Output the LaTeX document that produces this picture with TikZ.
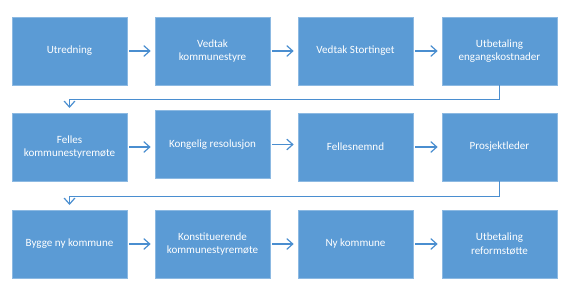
\documentclass[tikz,border=0pt]{standalone}
\usepackage{fontspec}
\setmainfont{Carlito}
\usetikzlibrary{arrows.meta}

\definecolor{boxblue}{HTML}{5B9BD5}
\definecolor{lineblue}{HTML}{4A8ED0}

\tikzset{
  stage/.style={draw=boxblue!70!white, line width=0.5pt, fill=boxblue, text=white,
    minimum width=86.25pt, minimum height=51pt, inner sep=2pt, align=center,
    font=\fontsize{8.3}{10}\selectfont},
  flow/.style={draw=lineblue, line width=0.9pt, -{Straight Barb[length=4.5pt,width=8pt]}},
}

\begin{document}
\begin{tikzpicture}[x=0.75pt, y=-0.75pt]
  \useasboundingbox (0,0) rectangle (580,295);

  % first row
  \node[stage] (S1) at (69.5,51) {Utredning};
  \node[stage] (S2) at (212.5,51) {Vedtak\\kommunestyre};
  \node[stage] (S3) at (355.5,51) {Vedtak Stortinget};
  \node[stage] (S4) at (499.5,51) {Utbetaling\\engangskostnader};

  % second row
  \node[stage] (S5) at (69.5,147) {Felles\\kommunestyremøte};
  \node[stage] (S6) at (212.5,144.5) {Kongelig resolusjon};
  \node[stage] (S7) at (355.5,147) {Fellesnemnd};
  \node[stage] (S8) at (499.5,147) {Prosjektleder};

  % third row
  \node[stage] (S9) at (69.5,244) {Bygge ny kommune};
  \node[stage] (S10) at (212.5,244) {Konstituerende\\kommunestyremøte};
  \node[stage] (S11) at (355.5,244) {Ny kommune};
  \node[stage] (S12) at (499.5,244) {Utbetaling\\reformstøtte};

  \draw[flow, shorten <=1.5pt, shorten >=3pt] (S1) -- (S2);
  \draw[flow, shorten <=1.5pt, shorten >=3pt] (S2) -- (S3);
  \draw[flow, shorten <=1.5pt, shorten >=3pt] (S3) -- (S4);
  \draw[flow, shorten >=3.5pt] (S4.south) -- ++(0,14) -| (S5.north);
  \draw[flow, shorten <=1.5pt, shorten >=3pt] (S5.east) -- (S5.east -| S6.west);
  \draw[flow, shorten <=1.5pt, shorten >=3pt] (S6.east) -- (S6.east -| S7.west);
  \draw[flow, shorten <=1.5pt, shorten >=3pt] (S7) -- (S8);
  \draw[flow, shorten >=3.5pt] (S8.south) -- ++(0,15) -| (S9.north);
  \draw[flow, shorten <=1.5pt, shorten >=3pt] (S9) -- (S10);
  \draw[flow, shorten <=1.5pt, shorten >=3pt] (S10) -- (S11);
  \draw[flow, shorten <=1.5pt, shorten >=3pt] (S11) -- (S12);
\end{tikzpicture}
\end{document}
